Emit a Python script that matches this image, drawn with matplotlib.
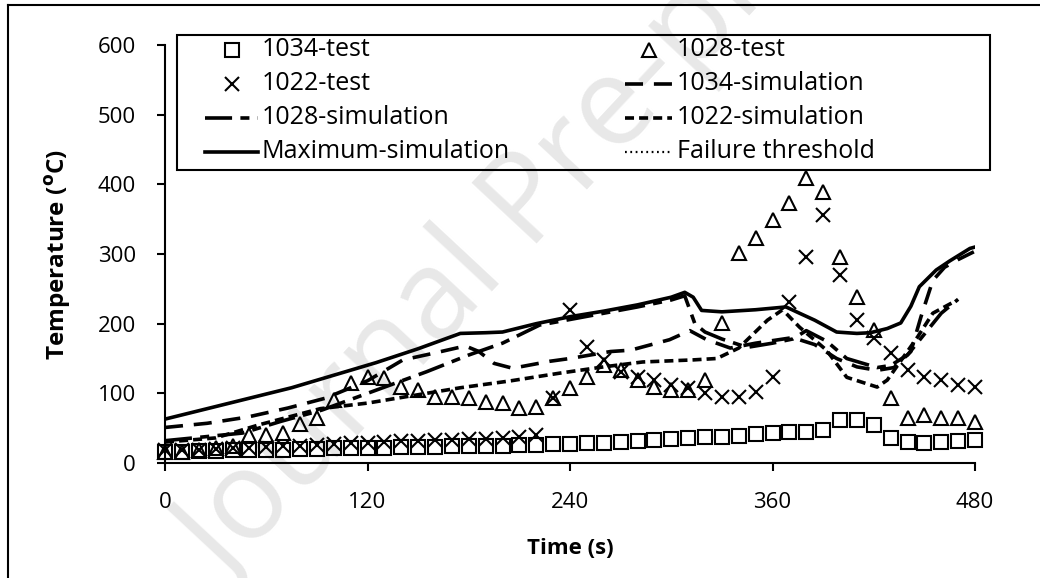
import numpy as np
import matplotlib
matplotlib.use("Agg")
import matplotlib.pyplot as plt
from matplotlib.lines import Line2D
from matplotlib.patches import Rectangle

plt.rcParams['font.family'] = ['Open Sans', 'DejaVu Sans']

# test data, one reading every 10 s
t_test = np.arange(0, 481, 10)
test_1034 = [16, 16, 17, 17, 18, 18, 19, 19, 20, 20, 21, 21, 22,
             22, 23, 23, 23, 24, 24, 25, 25, 26, 26, 27,
             27, 29, 29, 30, 31, 33, 34, 36, 37, 38, 39, 41, 43, 44, 45, 47,
             62, 62, 55, 36, 30, 29, 30, 31, 33]
test_1028 = [16, 16, 19, 22, 25, 40, 40, 43, 56, 65, 90, 115, 123,
             122, 109, 105, 95, 95, 93, 88, 86, 79, 80, 93,
             108, 123, 141, 133, 119, 109, 105, 105, 119, 201, 301, 323, 349,
             373, 409, 389, 296, 238, 191, 93, 65, 69, 65, 65, 59]
test_1022 = [18, 18, 19, 20, 21, 22, 23, 24, 25, 26, 27, 28, 29,
             30, 31, 32, 33, 33, 34, 35, 36, 37, 40, 93,
             220, 167, 148, 131, 123, 119, 112, 108, 100, 95, 95, 102, 123,
             231, 296, 356, 270, 205, 179, 158, 133, 123, 119, 112, 109]

# simulations
t_max = [0, 25, 50, 75, 100, 125, 150, 175, 190, 200, 220, 240, 260, 280, 300,
         308, 313, 318, 330, 350, 368, 376, 385, 398, 410, 418, 428, 436, 442,
         447, 452, 457, 465, 477, 480]
v_max = [63, 78, 93, 108, 126, 144, 164, 186, 187, 188, 200, 210, 218, 227, 238,
         245, 238, 219, 217, 220, 224, 215, 205, 188, 186, 187, 193, 201, 225,
         253, 265, 277, 290, 308, 310]

t_1034 = [0, 25, 49, 73, 95, 120, 141, 160, 178, 186, 195, 206, 228, 240, 264,
          276, 299, 311, 321, 335, 350, 372, 385, 398, 410, 422, 432, 442, 448,
          455, 462, 470, 480]
v_1034 = [51, 57, 66, 79, 93, 118, 148, 158, 168, 160, 143, 136, 146, 150, 160,
          162, 177, 190, 177, 165, 172, 180, 170, 150, 138, 133, 137, 160, 210,
          262, 281, 292, 304]

t_1028 = [0, 46, 69, 93, 120, 155, 180, 200, 222, 240, 260, 280, 300, 308, 314,
          320, 330, 345, 360, 372, 380, 392, 404, 422, 430, 440, 450, 460, 470]
v_1028 = [32, 43, 60, 76, 100, 131, 155, 172, 198, 206, 215, 224, 234, 240, 200,
          188, 178, 166, 172, 178, 190, 175, 150, 137, 140, 155, 185, 215, 235]

t_1022 = [0, 30, 56, 92, 120, 150, 175, 205, 234, 260, 283, 313, 327, 340, 357,
          366, 376, 392, 404, 422, 428, 446, 455, 468]
v_1022 = [30, 36, 55, 78, 86, 98, 108, 118, 129, 138, 145, 148, 150, 165, 205,
          220, 195, 162, 123, 109, 119, 181, 215, 232]

W, H = 1040, 578
fig = plt.figure(figsize=(W / 100, H / 100), dpi=100)
ax = fig.add_axes([165 / W, 1 - 463 / H, 810 / W, 418 / H])
ax.patch.set_visible(False)


def fx(px):
    return px / W


def fy(py):
    return 1 - py / H


# watermark
fig.text(0.525, 0.66, 'Journal Pre-proof', fontsize=90, color='#e8e8e8',
         rotation=47, ha='center', va='center', zorder=-5)

# outer frame (left and top)
fig.add_artist(Line2D([fx(8), fx(8)], [0, fy(5)], color='black', lw=1.5))
fig.add_artist(Line2D([fx(8), 1], [fy(5), fy(5)], color='black', lw=1.5))

lw = 2.6
st_max = dict(color='black', lw=lw, solid_joinstyle='round')
st_1034 = dict(color='black', lw=lw, dashes=(5, 3))
st_1028 = dict(color='black', lw=lw, dashes=(7.5, 2.3, 2.5, 2.3))
st_1022 = dict(color='black', lw=lw, dashes=(2.5, 1.4))
st_fail = dict(color='black', lw=1.6, dashes=(0.8, 1.6))

ax.plot(t_max, v_max, **st_max)
ax.plot(t_1034, v_1034, **st_1034)
ax.plot(t_1028, v_1028, **st_1028)
ax.plot(t_1022, v_1022, **st_1022)

mk_sq = dict(ls='none', color='black', mfc='none', ms=10, mew=1.5, marker='s')
mk_tri = dict(ls='none', color='black', mfc='none', ms=10, mew=1.5, marker='^')
mk_x = dict(ls='none', color='black', ms=10, mew=1.5, marker='x')
ax.plot(t_test, test_1034, clip_on=False, **mk_sq)
ax.plot(t_test, test_1028, clip_on=False, **mk_tri)
ax.plot(t_test, test_1022, clip_on=False, **mk_x)

ax.set_xlim(0, 480)
ax.set_ylim(0, 600)
ax.set_xticks([0, 120, 240, 360, 480])
ax.set_yticks([0, 100, 200, 300, 400, 500, 600])
for s in ['top', 'right']:
    ax.spines[s].set_visible(False)
for s in ['left', 'bottom']:
    ax.spines[s].set_linewidth(1.5)
ax.tick_params(axis='both', direction='out', length=6, width=1.5, labelsize=16)
ax.tick_params(axis='x', pad=15)
ax.tick_params(axis='y', pad=15)
ax.set_xlabel('Time (s)', fontsize=16, fontweight='bold', labelpad=18)
ax.set_ylabel(r'Temperature ($\mathbf{^{o}}$C)', fontsize=17.5, fontweight='bold',
              labelpad=18)

# legend, laid out by hand to follow the reference
fig.add_artist(Rectangle((fx(177), fy(170)), fx(990) - fx(177), fy(35) - fy(170),
                         transform=fig.transFigure, fill=False, ec='black',
                         lw=1.5, zorder=3))
rows = [50, 84, 118, 152]
cols = [(205, 258, 262), (625, 672, 677)]
entries = [
    (0, 0, '1034-test', mk_sq), (1, 0, '1028-test', mk_tri),
    (0, 1, '1022-test', mk_x), (1, 1, '1034-simulation', st_1034),
    (0, 2, '1028-simulation', st_1028), (1, 2, '1022-simulation', st_1022),
    (0, 3, 'Maximum-simulation', st_max), (1, 3, 'Failure threshold', st_fail),
]
for c, r, label, style in entries:
    x0, x1, xt = cols[c]
    y = fy(rows[r])
    if 'marker' in style:
        xm = fx((x0 + x1) / 2)
        fig.add_artist(Line2D([xm], [y], zorder=4, **style))
    else:
        fig.add_artist(Line2D([fx(x0), fx(x1)], [y, y], zorder=4, **style))
    fig.text(fx(xt), y, label, fontsize=18, va='center', ha='left', zorder=4)

fig.savefig('out.png', dpi=100)
